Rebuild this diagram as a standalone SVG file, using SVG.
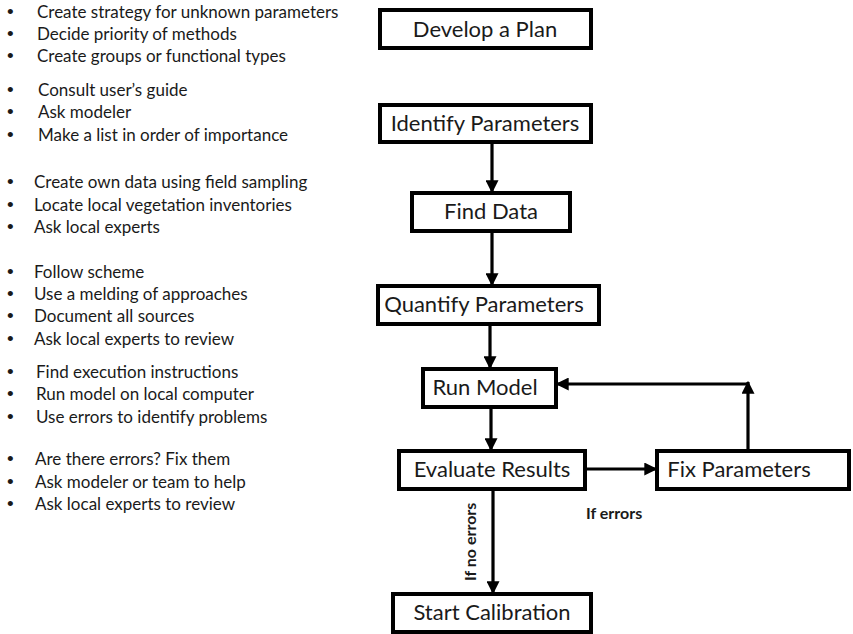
<svg xmlns="http://www.w3.org/2000/svg" width="853" height="634" viewBox="0 0 853 634">
  <defs>
    <marker id="arrow" viewBox="0 0 10 10" refX="9" refY="5" markerUnits="userSpaceOnUse" markerWidth="13" markerHeight="13" orient="auto">
      <path d="M0,0 L10,5 L0,10 z" fill="#000"/>
    </marker>
    <style>
      .box { fill: #fff; stroke: #000; stroke-width: 4; }
      .label { font-family: Lato, "Open Sans", sans-serif; font-size: 22px; fill: #1a1a1a; text-anchor: middle; }
      .note { font-family: Lato, "Open Sans", sans-serif; font-size: 17px; fill: #1a1a1a; }
      .dot { font-family: "Liberation Sans", Arial, sans-serif; font-size: 19px; fill: #1a1a1a; }
      .cond { font-family: Lato, "Liberation Sans", sans-serif; font-size: 16px; font-weight: bold; fill: #1a1a1a; }
      .link { fill: none; stroke: #000; stroke-width: 3.2; marker-end: url(#arrow); }
    </style>
  </defs>

  <rect width="853" height="634" fill="#fff"/>

  <!-- bullet notes beside each step -->
  <g id="notes" class="note">
    <g id="notes-plan">
      <text class="dot" x="7" y="18">•</text><text x="37" y="18">Create strategy for unknown parameters</text>
      <text class="dot" x="7" y="40">•</text><text x="37" y="40">Decide priority of methods</text>
      <text class="dot" x="7" y="62">•</text><text x="37" y="62">Create groups or functional types</text>
    </g>
    <g id="notes-identify">
      <text class="dot" x="7" y="96">•</text><text x="38" y="96">Consult user’s guide</text>
      <text class="dot" x="7" y="118">•</text><text x="38" y="118">Ask modeler</text>
      <text class="dot" x="7" y="141">•</text><text x="38" y="141">Make a list in order of importance</text>
    </g>
    <g id="notes-data">
      <text class="dot" x="7" y="188">•</text><text x="34" y="188">Create own data using field sampling</text>
      <text class="dot" x="7" y="211">•</text><text x="34" y="211">Locate local vegetation inventories</text>
      <text class="dot" x="7" y="233">•</text><text x="34" y="233">Ask local experts</text>
    </g>
    <g id="notes-quantify">
      <text class="dot" x="7" y="278">•</text><text x="34" y="278">Follow scheme</text>
      <text class="dot" x="7" y="300">•</text><text x="34" y="300">Use a melding of approaches</text>
      <text class="dot" x="7" y="322">•</text><text x="34" y="322">Document all sources</text>
      <text class="dot" x="7" y="345">•</text><text x="34" y="345">Ask local experts to review</text>
    </g>
    <g id="notes-run">
      <text class="dot" x="7" y="378">•</text><text x="36" y="378">Find execution instructions</text>
      <text class="dot" x="7" y="400">•</text><text x="36" y="400">Run model on local computer</text>
      <text class="dot" x="7" y="423">•</text><text x="36" y="423">Use errors to identify problems</text>
    </g>
    <g id="notes-evaluate">
      <text class="dot" x="7" y="465">•</text><text x="35" y="465">Are there errors? Fix them</text>
      <text class="dot" x="7" y="488">•</text><text x="35" y="488">Ask modeler or team to help</text>
      <text class="dot" x="7" y="510">•</text><text x="35" y="510">Ask local experts to review</text>
    </g>
  </g>

  <!-- connectors -->
  <g id="connectors">
    <path class="link" d="M492,143 V192"/>
    <path class="link" d="M492,232 V285"/>
    <path class="link" d="M490,325 V368"/>
    <path class="link" d="M491,408 V450"/>
    <path class="link" d="M586,469 H656"/>
    <path class="link" d="M748,450 V382"/>
    <path class="link" d="M748,384 H557"/>
    <path class="link" d="M493,490 V593"/>
  </g>

  <!-- steps -->
  <g id="develop-plan">
    <rect class="box" x="380" y="10" width="211" height="38"/>
    <text class="label" x="485" y="37">Develop a Plan</text>
  </g>
  <g id="identify-parameters">
    <rect class="box" x="380" y="105" width="211" height="37"/>
    <text class="label" x="485" y="131">Identify Parameters</text>
  </g>
  <g id="find-data">
    <rect class="box" x="412" y="193" width="158" height="38"/>
    <text class="label" x="491" y="219">Find Data</text>
  </g>
  <g id="quantify-parameters">
    <rect class="box" x="378" y="286" width="221" height="38"/>
    <text class="label" x="484" y="312">Quantify Parameters</text>
  </g>
  <g id="run-model">
    <rect class="box" x="423" y="369" width="133" height="38"/>
    <text class="label" x="485" y="395">Run Model</text>
  </g>
  <g id="evaluate-results">
    <rect class="box" x="399" y="451" width="186" height="38"/>
    <text class="label" x="492" y="477">Evaluate Results</text>
  </g>
  <g id="fix-parameters">
    <rect class="box" x="657" y="451" width="192" height="38"/>
    <text class="label" x="739" y="477">Fix Parameters</text>
  </g>
  <g id="start-calibration">
    <rect class="box" x="393" y="594" width="198" height="38"/>
    <text class="label" x="492" y="620">Start Calibration</text>
  </g>

  <!-- branch conditions -->
  <g id="conditions">
    <text class="cond" x="586" y="519">If errors</text>
    <text class="cond" transform="translate(476,581) rotate(-90)">If no errors</text>
  </g>
</svg>
